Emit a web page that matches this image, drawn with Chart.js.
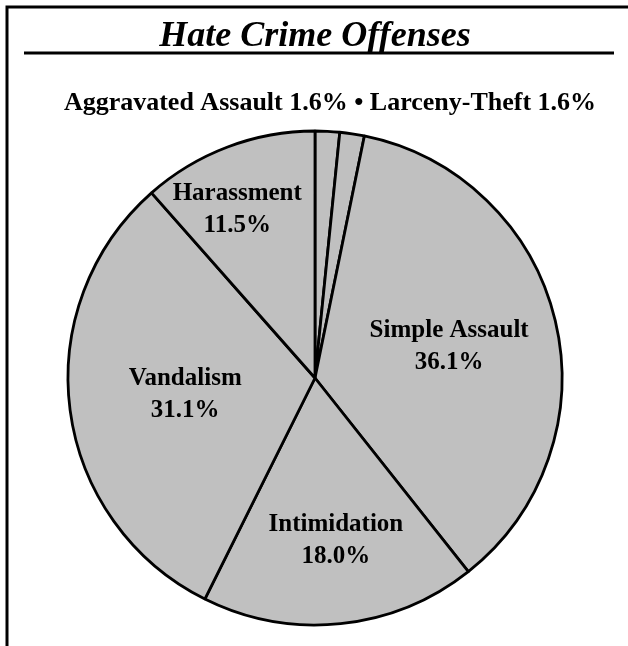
<!DOCTYPE html>
<html>
<head>
<meta charset="utf-8">
<script src="https://cdn.jsdelivr.net/npm/chart.js@4"></script>
<style>
  html, body { margin: 0; padding: 0; background: #fff; }
  #wrap { width: 628px; height: 646px; position: relative; }
</style>
</head>
<body>
<div id="wrap"><canvas id="graficoDelitos"></canvas></div>
<script>
// datos del grafico
const titulo = "Hate Crime Offenses";
const categorias = ["Aggravated Assault", "Larceny-Theft", "Simple Assault", "Intimidation", "Vandalism", "Harassment"];
const porcentajes = [1.6, 1.6, 36.1, 18.0, 31.1, 11.5];
// las dos porciones chicas van en el subtitulo, no dentro de la torta
const enSubtitulo = [true, true, false, false, false, false];

const fuente = "'Liberation Serif', 'Times New Roman', serif";

// ubicacion de etiquetas: fraccion del radio y corrimiento horizontal
const distEtiqueta = [0, 0, 0.55, 0.66, 0.53, 0.73];
const corrimientoX = [0, 0, 2, 4, 0, -14];

const subtitulo = categorias
  .map((c, i) => enSubtitulo[i] ? `${c} ${porcentajes[i].toFixed(1)}%` : null)
  .filter(Boolean)
  .join(" \u2022 ");

const marcoYTitulo = {
  id: "marcoYTitulo",
  beforeDraw(chart) {
    const ctx = chart.ctx;
    ctx.save();
    ctx.fillStyle = "#fff";
    ctx.fillRect(0, 0, chart.width, chart.height);
    ctx.strokeStyle = "#000";
    ctx.lineWidth = 3;
    ctx.beginPath();
    ctx.moveTo(7, chart.height);
    ctx.lineTo(7, 7);
    ctx.lineTo(chart.width, 7);
    ctx.stroke();
    // linea bajo el titulo
    ctx.beginPath();
    ctx.moveTo(24, 53);
    ctx.lineTo(614, 53);
    ctx.stroke();
    ctx.fillStyle = "#000";
    ctx.textAlign = "center";
    ctx.textBaseline = "alphabetic";
    ctx.font = `italic bold 36px ${fuente}`;
    ctx.fillText(titulo, 315, 46);
    ctx.font = `bold 26px ${fuente}`;
    ctx.fillText(subtitulo, 330, 110);
    ctx.restore();
  }
};

const etiquetas = {
  id: "etiquetas",
  afterDatasetsDraw(chart) {
    const ctx = chart.ctx;
    const arcos = chart.getDatasetMeta(0).data;
    ctx.save();
    ctx.fillStyle = "#000";
    ctx.textAlign = "center";
    ctx.textBaseline = "middle";
    ctx.font = `bold 25px ${fuente}`;
    arcos.forEach((arco, i) => {
      if (enSubtitulo[i]) return;
      const { x, y, startAngle, endAngle, outerRadius } = arco.getProps(["x", "y", "startAngle", "endAngle", "outerRadius"], true);
      const medio = (startAngle + endAngle) / 2;
      const r = outerRadius * distEtiqueta[i];
      const cx = x + Math.cos(medio) * r + corrimientoX[i];
      const cy = y + Math.sin(medio) * r;
      ctx.fillText(categorias[i], cx, cy - 16);
      ctx.fillText(porcentajes[i].toFixed(1) + "%", cx, cy + 16);
    });
    ctx.restore();
  }
};

new Chart(document.getElementById("graficoDelitos"), {
  type: "pie",
  data: {
    labels: categorias,
    datasets: [{
      data: porcentajes,
      backgroundColor: "#c0c0c0",
      borderColor: "#000",
      borderWidth: 2.8,
      hoverOffset: 0
    }]
  },
  options: {
    responsive: true,
    maintainAspectRatio: false,
    animation: false,
    radius: 247,
    layout: { padding: { top: 130, bottom: 20, left: 67, right: 65 } },
    plugins: {
      legend: { display: false },
      tooltip: { enabled: false },
      title: { display: false }
    }
  },
  plugins: [marcoYTitulo, etiquetas]
});
</script>
</body>
</html>
